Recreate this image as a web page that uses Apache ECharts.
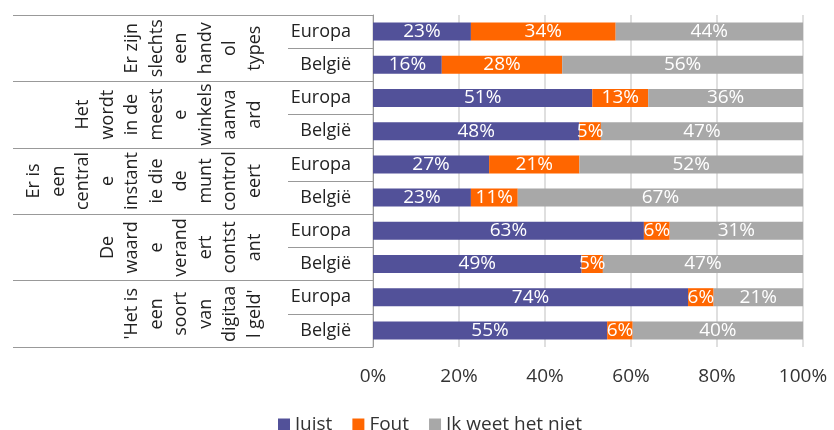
<!DOCTYPE html>
<html>
<head>
<meta charset="utf-8">
<script src="https://cdn.jsdelivr.net/npm/echarts@6/dist/echarts.min.js"></script>
<style>
    html, body { margin: 0; padding: 0; background: #fff; }
    #chart { width: 834px; height: 430px; }
</style>
</head>
<body>
<div id="chart"></div>
<script>
    // rijen (van boven naar onder)
    const regions = ['Europa', 'België', 'Europa', 'België', 'Europa', 'België', 'Europa', 'België', 'Europa', 'België']
    // stellingen, afgebroken zoals in de bron
    const statements = [
        'Er zijn\nslechts\neen\nhandv\nol\ntypes',
        'Het\nwordt\nin de\nmeest\ne\nwinkels\naanva\nard',
        'Er is\neen\ncentral\ne\ninstant\nie die\nde\nmunt\ncontrol\neert',
        'De\nwaard\ne\nverand\nert\ncontst\nant',
        '\'Het is\neen\nsoort\nvan\ndigitaa\nl geld\''
    ]
    const juist = [23, 16, 51, 48, 27, 23, 63, 49, 74, 55]
    const fout = [34, 28, 13, 5, 21, 11, 6, 5, 6, 6]
    const weetNiet = [44, 56, 36, 47, 52, 67, 31, 47, 21, 40]
    const xTicks = [0, 20, 40, 60, 80, 100]

    const font = '"Open Sans", sans-serif'
    const totals = juist.map((v, i) => v + fout[i] + weetNiet[i])
    // 100% gestapeld: aandeel berekenen, label toont het ruwe getal
    const share = arr => arr.map((v, i) => ({ value: v / totals[i] * 100, raw: v }))

    function barSeries(name, arr, color) {
        return {
            name: name,
            type: 'bar',
            stack: 'totaal',
            yAxisIndex: 0,
            barWidth: 18,
            itemStyle: { color: color },
            label: {
                show: true,
                position: 'inside',
                color: '#fff',
                fontFamily: font,
                fontSize: 19,
                formatter: p => p.data.raw + '%'
            },
            data: share(arr)
        }
    }

    const chart = echarts.init(document.getElementById('chart'))
    chart.setOption({
        animation: false,
        textStyle: { fontFamily: font },
        grid: { left: 373, right: 31, top: 15, bottom: 83 },
        legend: {
            left: 273,
            top: 410,
            icon: 'rect',
            itemWidth: 12,
            itemHeight: 12,
            itemGap: 20,
            textStyle: { fontFamily: font, fontSize: 19, color: '#333' },
            data: ['Juist', 'Fout', 'Ik weet het niet']
        },
        xAxis: {
            type: 'value',
            min: xTicks[0],
            max: xTicks[xTicks.length - 1],
            interval: 20,
            axisLine: { show: false },
            axisTick: { show: false },
            splitLine: { lineStyle: { color: '#d4d4d4', width: 1.5 } },
            axisLabel: {
                formatter: '{value}%',
                fontFamily: font,
                fontSize: 19,
                color: '#333',
                margin: 20
            }
        },
        yAxis: [
            {
                type: 'category',
                inverse: true,
                position: 'left',
                data: regions,
                axisLine: { show: true, lineStyle: { color: '#999' } },
                axisTick: { show: true, interval: 0, length: 85, lineStyle: { color: '#999' } },
                axisLabel: { interval: 0, fontFamily: font, fontSize: 18, color: '#222', margin: 22 }
            },
            {
                type: 'category',
                inverse: true,
                position: 'left',
                data: statements,
                axisLine: { show: false },
                axisTick: { show: true, interval: 0, length: 360, lineStyle: { color: '#999' } },
                axisLabel: {
                    interval: 0,
                    rotate: 90,
                    align: 'center',
                    verticalAlign: 'bottom',
                    margin: 106,
                    fontFamily: font,
                    fontSize: 18,
                    lineHeight: 24.5,
                    color: '#222'
                }
            }
        ],
        series: [
            barSeries('Juist', juist, '#525199'),
            barSeries('Fout', fout, '#ff6600'),
            barSeries('Ik weet het niet', weetNiet, '#a8a8a8')
        ]
    })
</script>
</body>
</html>
